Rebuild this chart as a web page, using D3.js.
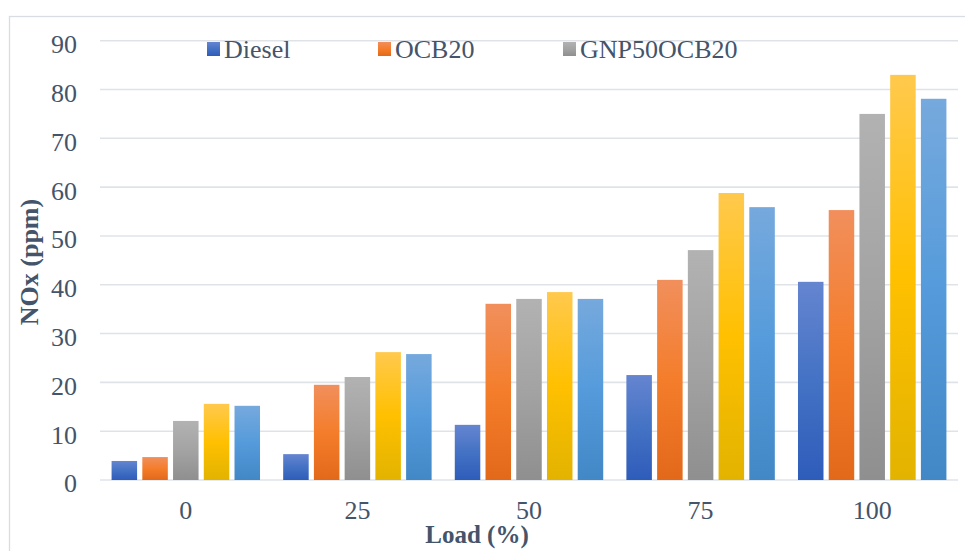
<!DOCTYPE html>
<html>
<head>
<meta charset="utf-8">
<script src="https://cdn.jsdelivr.net/npm/d3@7/dist/d3.min.js"></script>
<style>
  html, body { margin: 0; padding: 0; background: #fff; }
  svg { display: block; }
  text { font-family: "Liberation Serif", "Times New Roman", serif; fill: #44546a; }
</style>
</head>
<body>
<svg id="chart" width="965" height="551"></svg>
<script>
// Engine load categories (%)
const loads = ["0", "25", "50", "75", "100"];
// Fuel blends, in drawing order
const seriesNames = ["Diesel", "OCB20", "GNP50OCB20", "Series4", "Series5"];
// Names shown in the legend
const legendNames = ["Diesel", "OCB20", "GNP50OCB20"];
// NOx emissions (ppm) per blend, one value per load
const diesel     = [3.9, 5.3, 11.3, 21.5, 40.6];
const ocb20      = [4.7, 19.5, 36.1, 41.0, 55.3];
const gnp50ocb20 = [12.1, 21.1, 37.1, 47.1, 75.0];
const series4    = [15.6, 26.2, 38.5, 58.8, 83.0];
const series5    = [15.2, 25.8, 37.1, 55.9, 78.1];
const yTicks = [0, 10, 20, 30, 40, 50, 60, 70, 80, 90];

const seriesValues = [diesel, ocb20, gnp50ocb20, series4, series5];

// Gradient stops (top, middle, bottom) per blend
const palette = [
  ["#6585d0", "#4472c4", "#2e5cba"],
  ["#f18f5c", "#f47d2b", "#e2691a"],
  ["#b2b2b2", "#a3a3a3", "#8f8f8f"],
  ["#ffc94d", "#ffc000", "#e2b300"],
  ["#76a9dd", "#559bdb", "#4287c6"]
];

const svg = d3.select("#chart");
const plot = { left: 100, right: 958, top: 40.7, bottom: 480 };

// Outer chart frame
svg.append("rect")
  .attr("x", 9.5).attr("y", 16.5)
  .attr("width", 1000).attr("height", 600)
  .attr("fill", "none").attr("stroke", "#d9dde3").attr("stroke-width", 1.3);

const defs = svg.append("defs");
palette.forEach((c, i) => {
  const g = defs.append("linearGradient")
    .attr("id", "grad" + i)
    .attr("x1", 0).attr("y1", 0).attr("x2", 0).attr("y2", 1);
  g.append("stop").attr("offset", "0%").attr("stop-color", c[0]);
  g.append("stop").attr("offset", "50%").attr("stop-color", c[1]);
  g.append("stop").attr("offset", "100%").attr("stop-color", c[2]);
});

const x0 = d3.scaleBand().domain(loads).range([plot.left, plot.right])
  .paddingInner(0.135).paddingOuter(0.0675);
const x1 = d3.scaleBand().domain(seriesNames).range([0, x0.bandwidth()])
  .paddingInner(0.17).paddingOuter(0);
const y = d3.scaleLinear().domain([0, 90]).range([plot.bottom, plot.top]);

// Horizontal gridlines
svg.append("g")
  .selectAll("line")
  .data(yTicks)
  .join("line")
  .attr("x1", plot.left).attr("x2", plot.right)
  .attr("y1", d => y(d)).attr("y2", d => y(d))
  .attr("stroke", "#dfe3e8").attr("stroke-width", 1.6);

// Y axis labels
const yAxis = d3.axisLeft(y).tickValues(yTicks).tickSize(0).tickPadding(0);
svg.append("g")
  .attr("transform", `translate(77,0)`)
  .call(yAxis)
  .call(g => g.select(".domain").remove())
  .call(g => g.selectAll("text")
    .attr("font-size", 26).attr("fill", "#44546a")
    .attr("font-family", '"Liberation Serif", serif')
    .attr("dy", "0.38em").attr("y", 2));

// X axis labels
const xAxis = d3.axisBottom(x0).tickSize(0).tickPadding(0);
svg.append("g")
  .attr("transform", `translate(0,${plot.bottom})`)
  .call(xAxis)
  .call(g => g.select(".domain").remove())
  .call(g => g.selectAll("text")
    .attr("font-size", 26).attr("fill", "#44546a")
    .attr("font-family", '"Liberation Serif", serif')
    .attr("dy", 0).attr("y", 39));

// Bars
const groups = svg.append("g")
  .selectAll("g")
  .data(loads)
  .join("g")
  .attr("transform", d => `translate(${x0(d)},0)`);

groups.selectAll("rect")
  .data((d, li) => seriesNames.map((s, si) => ({ s, si, v: seriesValues[si][li] })))
  .join("rect")
  .attr("x", d => x1(d.s))
  .attr("width", x1.bandwidth())
  .attr("y", d => y(d.v))
  .attr("height", d => y(0) - y(d.v))
  .attr("fill", d => `url(#grad${d.si})`);

// Legend
const legendX = [207, 378, 563];
const legend = svg.append("g");
legendNames.forEach((name, i) => {
  legend.append("rect")
    .attr("x", legendX[i]).attr("y", 42)
    .attr("width", 13).attr("height", 14)
    .attr("fill", `url(#grad${i})`);
  legend.append("text")
    .attr("x", legendX[i] + 17).attr("y", 57.5)
    .attr("font-size", 26)
    .text(name);
});

// Axis titles
svg.append("text")
  .attr("x", 477).attr("y", 543)
  .attr("text-anchor", "middle")
  .attr("font-size", 25).attr("font-weight", "bold")
  .text("Load (%)");

svg.append("text")
  .attr("transform", "translate(38,262) rotate(-90)")
  .attr("text-anchor", "middle")
  .attr("font-size", 26).attr("font-weight", "bold")
  .text("NOx (ppm)");
</script>
</body>
</html>
